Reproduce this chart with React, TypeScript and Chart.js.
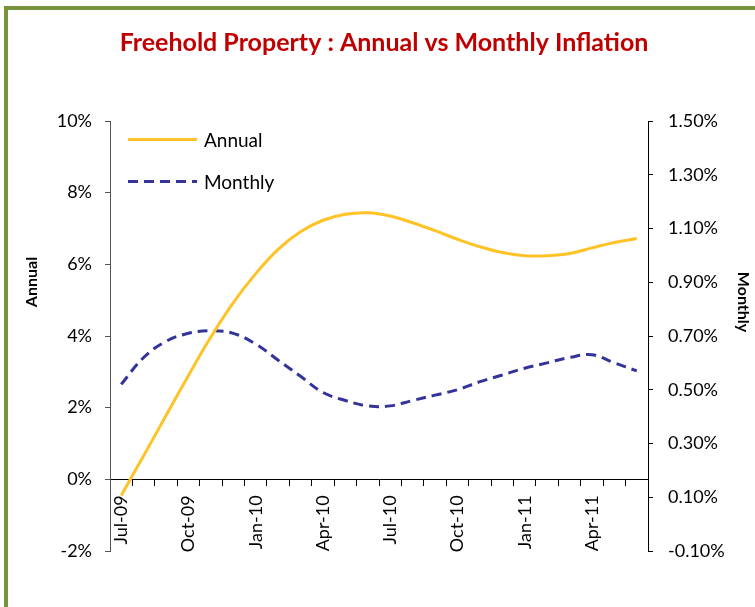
import React, { useEffect, useRef } from "react";
import { Chart, registerables } from "chart.js";

Chart.register(...registerables);

const months = [
  "Jul-09", "Aug-09", "Sep-09", "Oct-09", "Nov-09", "Dec-09",
  "Jan-10", "Feb-10", "Mar-10", "Apr-10", "May-10", "Jun-10",
  "Jul-10", "Aug-10", "Sep-10", "Oct-10", "Nov-10", "Dec-10",
  "Jan-11", "Feb-11", "Mar-11", "Apr-11", "May-11", "Jun-11",
];

const annual = [
  -0.45, 0.66, 1.78, 2.9, 3.97, 4.93, 5.74, 6.42, 6.91, 7.23, 7.4, 7.44,
  7.35, 7.16, 6.94, 6.7, 6.49, 6.33, 6.24, 6.24, 6.3, 6.46, 6.61, 6.72,
];

const monthly = [
  0.52, 0.62, 0.68, 0.71, 0.72, 0.71, 0.67, 0.61, 0.55, 0.49, 0.46, 0.44,
  0.44, 0.46, 0.48, 0.5, 0.53, 0.555, 0.58, 0.6, 0.62, 0.63, 0.6, 0.57,
];

const TITLE = "Freehold Property : Annual vs Monthly Inflation";
const LEFT_TITLE = "Annual";
const RIGHT_TITLE = "Monthly";

const FONT = "Lato, 'Open Sans', 'Liberation Sans', sans-serif";

const overlayPlugin = {
  id: "overlay",
  afterDraw(chart: any) {
    const ctx = chart.ctx;
    ctx.save();
    // axis titles
    ctx.fillStyle = "#000";
    ctx.font = `bold 16px ${FONT}`;
    ctx.textAlign = "center";
    ctx.textBaseline = "middle";
    ctx.save();
    ctx.translate(32, 282);
    ctx.rotate(-Math.PI / 2);
    ctx.fillText(LEFT_TITLE, 0, 0);
    ctx.restore();
    ctx.save();
    ctx.translate(743, 302);
    ctx.rotate(Math.PI / 2);
    ctx.fillText(RIGHT_TITLE, 0, 0);
    ctx.restore();

    // legend inside the plot
    const rows = [139.5, 181.5];
    chart.data.datasets.forEach((ds: any, i: number) => {
      const y = rows[i];
      ctx.save();
      ctx.strokeStyle = ds.borderColor;
      ctx.lineWidth = ds.borderWidth;
      ctx.setLineDash(ds.borderDash || []);
      ctx.beginPath();
      ctx.moveTo(128, y);
      ctx.lineTo(197, y);
      ctx.stroke();
      ctx.restore();
      ctx.fillStyle = "#000";
      ctx.font = `19px ${FONT}`;
      ctx.textAlign = "left";
      ctx.textBaseline = "middle";
      ctx.fillText(ds.label, 204, y + 1);
    });
    ctx.restore();
  },
};

export default function App() {
  const ref = useRef<HTMLCanvasElement>(null);

  useEffect(() => {
    if (!ref.current) return;
    const axisColor = "#555555";
    const chart = new Chart(ref.current, {
      type: "line",
      data: {
        labels: months,
        datasets: [
          {
            label: "Annual",
            data: annual,
            yAxisID: "y",
            borderColor: "#FFC328",
            backgroundColor: "#FFC328",
            borderWidth: 3,
            pointRadius: 0,
            tension: 0.4,
            fill: false,
          },
          {
            label: "Monthly",
            data: monthly,
            yAxisID: "y1",
            borderColor: "#333399",
            backgroundColor: "#333399",
            borderWidth: 3,
            borderDash: [10, 6],
            pointRadius: 0,
            tension: 0.4,
            fill: false,
          },
        ],
      },
      options: {
        responsive: false,
        animation: false,
        devicePixelRatio: 1,
        layout: { padding: { left: 13, right: 0, top: 0, bottom: 56 } },
        plugins: {
          legend: { display: false },
          tooltip: { enabled: false },
          title: {
            display: true,
            text: TITLE,
            color: "#C00000",
            font: { family: FONT, size: 25, weight: "bold" },
            padding: { top: 28, bottom: 63 },
          },
        },
        scales: {
          x: {
            type: "category",
            position: { y: 0 } as any,
            offset: true,
            grid: {
              display: true,
              offset: true,
              drawOnChartArea: false,
              drawTicks: true,
              tickLength: 6,
              color: "#000",
            },
            border: { display: true, color: "#000", width: 1 },
            ticks: {
              autoSkip: false,
              maxRotation: 90,
              minRotation: 90,
              padding: 10,
              color: "#000",
              font: { family: FONT, size: 18 },
              callback: (_v: any, i: number) => (i % 3 === 0 ? months[i] : ""),
            },
          },
          y: {
            position: "left",
            min: -2,
            max: 10,
            ticks: {
              stepSize: 2,
              padding: 13,
              color: "#000",
              font: { family: FONT, size: 18 },
              callback: (v: any) => `${v}%`,
            },
            grid: {
              drawOnChartArea: false,
              drawTicks: true,
              tickLength: 5,
              color: axisColor,
            },
            border: { display: true, color: axisColor, width: 1 },
            afterFit: (s: any) => {
              s.width = 97;
            },
          },
          y1: {
            position: "right",
            min: -0.1,
            max: 1.5,
            ticks: {
              stepSize: 0.2,
              padding: 15,
              color: "#000",
              font: { family: FONT, size: 18 },
              callback: (v: any) => `${Number(v).toFixed(2)}%`,
            },
            grid: {
              drawOnChartArea: false,
              drawTicks: true,
              tickLength: 5,
              color: "#000",
            },
            border: { display: true, color: "#000", width: 1 },
            afterFit: (s: any) => {
              s.width = 107;
            },
          },
        },
      },
      plugins: [overlayPlugin],
    });
    return () => chart.destroy();
  }, []);

  return (
    <div
      style={{
        position: "fixed",
        left: 0,
        top: 0,
        width: 755,
        height: 607,
        overflow: "hidden",
        background: "#fff",
      }}
    >
      <div
        style={{
          position: "absolute",
          left: 4,
          top: 6,
          width: 830,
          height: 700,
          border: "4px solid #77933C",
          boxSizing: "border-box",
        }}
      />
      <canvas
        ref={ref}
        width={755}
        height={607}
        style={{ position: "absolute", left: 0, top: 0 }}
      />
    </div>
  );
}
